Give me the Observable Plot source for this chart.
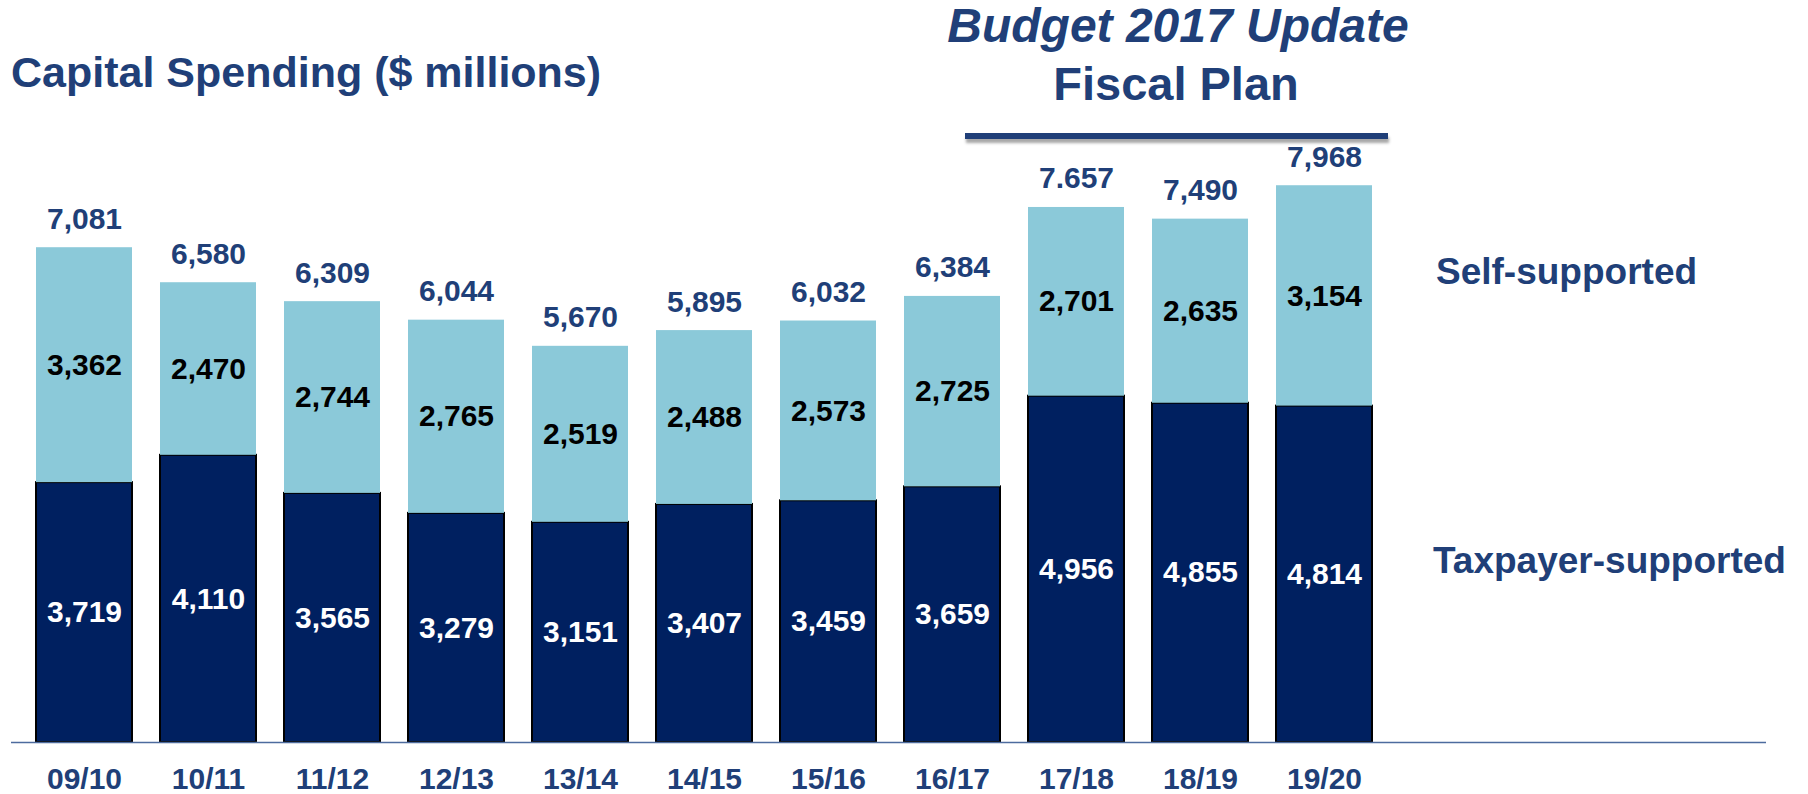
<!DOCTYPE html>
<html>
<head>
<meta charset="utf-8">
<script src="https://cdn.jsdelivr.net/npm/d3@7"></script>
<script src="https://cdn.jsdelivr.net/npm/@observablehq/plot@0.6"></script>
<style>
  html, body { margin: 0; padding: 0; background: #fff; overflow: hidden; }
  #wrap { position: relative; width: 1808px; height: 794px; font-family: "Liberation Sans", Arial, sans-serif; color: #203F78; }
  .lbl { position: absolute; white-space: nowrap; font-weight: bold; line-height: 1; }
  #chart { position: absolute; left: 0; top: 0; }
  g[aria-label="x-axis tick label"] text { font-weight: bold; }
</style>
</head>
<body>
<div id="wrap">
  <div id="chart"></div>
  <div class="lbl" style="left:11px; top:51px; font-size:43px;">Capital Spending ($ millions)</div>
  <div class="lbl" style="left:878px; width:600px; text-align:center; top:2px; font-size:48px; font-style:italic;">Budget 2017 Update</div>
  <div class="lbl" style="left:876px; width:600px; text-align:center; top:60px; font-size:47px;">Fiscal Plan</div>
  <div style="position:absolute; left:965px; top:133px; width:423px; height:6px; background:#203F78; box-shadow:1px 4px 3px rgba(0,0,0,0.35);"></div>
  <div class="lbl" style="left:1436px; top:253px; font-size:37px;">Self-supported</div>
  <div class="lbl" style="left:1433px; top:542px; font-size:37px;">Taxpayer-supported</div>
</div>
<script>
const years = ["09/10","10/11","11/12","12/13","13/14","14/15","15/16","16/17","17/18","18/19","19/20"];
const taxpayerSupported = [3719, 4110, 3565, 3279, 3151, 3407, 3459, 3659, 4956, 4855, 4814];
const selfSupported = [3362, 2470, 2744, 2765, 2519, 2488, 2573, 2725, 2701, 2635, 3154];
const totalLabels = ["7,081","6,580","6,309","6,044","5,670","5,895","6,032","6,384","7.657","7,490","7,968"];

const navy = "#203F78";
const darkBlue = "#002060";
const lightBlue = "#8BC9D9";
const fmt = d3.format(",");

const rows = years.map((year, i) => ({
  year,
  tax: taxpayerSupported[i],
  self: selfSupported[i],
  top: taxpayerSupported[i] + selfSupported[i],
  totalLabel: totalLabels[i]
}));

const chart = Plot.plot({
  width: 1808,
  height: 794,
  marginTop: 183,
  marginBottom: 52,
  marginLeft: 11,
  marginRight: 42,
  style: { fontFamily: "'Liberation Sans', Arial, sans-serif", fontSize: "30px", color: navy, background: "transparent", overflow: "visible" },
  x: { type: "band", domain: years, range: [18.1, 1390.9], paddingInner: 0.223, paddingOuter: 0.1115, tickSize: 0, tickPadding: 25, label: null },
  y: { domain: [0, 8000], axis: null },
  marks: [
    Plot.barY(rows, { x: "year", y1: 0, y2: "tax", fill: darkBlue, stroke: "#000", strokeWidth: 2 }),
    Plot.barY(rows, { x: "year", y1: "tax", y2: "top", fill: lightBlue }),
    Plot.ruleY([0], { stroke: "#4D6B9E", strokeWidth: 1.5 }),
    Plot.text(rows, { x: "year", y: d => d.tax / 2, text: d => fmt(d.tax), fill: "#fff", fontSize: 30, fontWeight: "bold" }),
    Plot.text(rows, { x: "year", y: d => d.tax + d.self / 2, text: d => fmt(d.self), fill: "#000", fontSize: 30, fontWeight: "bold" }),
    Plot.text(rows, { x: "year", y: "top", text: "totalLabel", lineAnchor: "bottom", dy: -19, fill: navy, fontSize: 30, fontWeight: "bold" })
  ]
});
document.getElementById("chart").appendChild(chart);
</script>
</body>
</html>
